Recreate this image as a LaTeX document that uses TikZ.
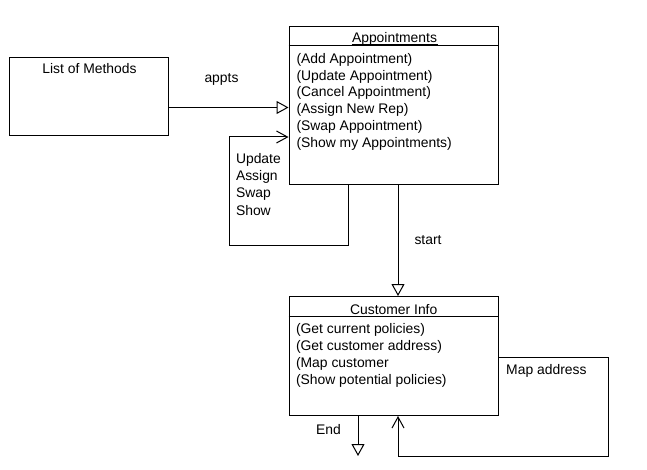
\documentclass[tikz,border=0pt]{standalone}
\usepackage{fontspec}
\setmainfont{Liberation Sans}
\usetikzlibrary{arrows.meta}
\begin{document}
\begin{tikzpicture}[x=1pt,y=-1pt,line width=1pt,
  box/.style={draw,rectangle,inner sep=0pt,anchor=north west},
  txt/.style={anchor=base west,inner sep=0pt,font=\fontsize{13.9}{17}\selectfont},
  ctxt/.style={anchor=base,inner sep=0pt,font=\fontsize{13.9}{17}\selectfont},
  tri/.style={-{Triangle[open,length=12pt,width=13pt]}},
  barb/.style={-{Straight Barb[length=11pt,width=12pt]}}]
\useasboundingbox (0,0) rectangle (647,470);
% boxes
\node[box,minimum width=159pt,minimum height=78pt] (lm) at (8.5,57) {};
\node[box,minimum width=209pt,minimum height=158pt] (ap) at (288.5,26.5) {};
\node[box,minimum width=209pt,minimum height=119pt] (ci) at (288.5,296) {};
\draw (ap.west |- 0,46) -- (ap.east |- 0,46);
\draw (ci.west |- 0,316) -- (ci.east |- 0,316);
% texts
\node[ctxt] (lmt) at (89.5,74) {List of Methods};
\node[ctxt] (apt) at (394.5,42.5) {Appointments};
\draw[line width=0.9pt] ([yshift=-1.8pt]apt.base west) -- ([yshift=-1.8pt]apt.base east);
\node[txt] (m1) at (296,63.3) {(Add Appointment)};
\node[txt] (m2) at (296,80.1) {(Update Appointment)};
\node[txt] (m3) at (296,96.9) {(Cancel Appointment)};
\node[txt] (m4) at (296,113.7) {(Assign New Rep)};
\node[txt] (m5) at (296,130.5) {(Swap Appointment)};
\node[txt] (m6) at (296,147.3) {(Show my Appointments)};
\node[ctxt] (cit) at (393.7,314) {Customer Info};
\node[txt] (c1) at (295.5,333.8) {(Get current policies)};
\node[txt] (c2) at (295.5,350.8) {(Get customer address)};
\node[txt] (c3) at (295.5,367.8) {(Map customer};
\node[txt] (c4) at (295.5,384.8) {(Show potential policies)};
\node[txt] (l1) at (204,83) {appts};
\node[txt] (u1) at (235.5,163.4) {Update};
\node[txt] (u2) at (235.5,180.6) {Assign};
\node[txt] (u3) at (235.5,197.8) {Swap};
\node[txt] (u4) at (235.5,215) {Show};
\node[txt] (l2) at (414,244) {start};
\node[txt] (l3) at (505.7,374) {Map address};
\node[txt] (l4) at (315.7,434) {End};
% connectors
\coordinate (a1) at (lm.east |- 0,107.5);
\draw[tri] (a1) -- (a1 -| ap.west);
\draw[barb] (348,0 |- ap.south) -- (348,245.5) -- (229,245.5) -- (229,137) -- (ap.west |- 0,137);
\draw[tri] (398,0 |- ap.south) -- (398,0 |- ci.north);
\coordinate (endpt) at (358,456);
\draw[tri] (358,0 |- ci.south) -- (endpt);
\draw[barb] (ci.east |- 0,357) -- (608,357) -- (608,456) -- (398,456) -- (398,0 |- ci.south);
\end{tikzpicture}
\end{document}
